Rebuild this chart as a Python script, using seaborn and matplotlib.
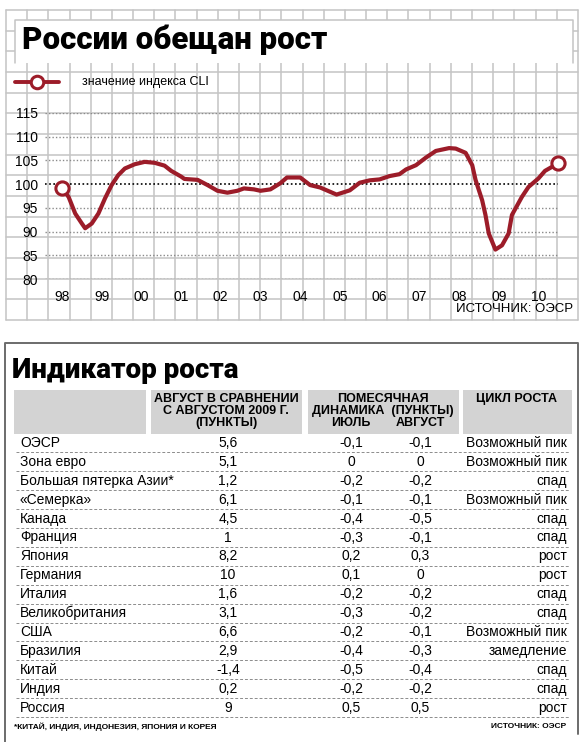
import numpy as np
import pandas as pd
import matplotlib
matplotlib.use("Agg")
import matplotlib.pyplot as plt
import seaborn as sns
from matplotlib import font_manager
from matplotlib.patches import Rectangle

# --- данные графика: индекс CLI (месяцы от января 1998) ---
months = [0, 2, 4, 6, 7, 9, 11, 13, 15, 17, 19, 22, 25, 28, 31, 33, 36, 37, 41, 44,
          47, 50, 53, 55, 58, 60, 63, 66, 68, 72, 75, 78, 83, 87, 90, 93, 96, 99, 102,
          104, 107, 110, 113, 117, 119, 122, 124, 125, 127, 128, 129, 131, 133, 135,
          136, 139, 141, 144, 146, 150]
cli = [99.1, 97.3, 93.8, 91.7, 90.7, 91.7, 93.8, 97.0, 99.8, 101.9, 103.3, 104.2,
       104.7, 104.5, 103.9, 102.8, 101.6, 101.1, 100.9, 99.8, 98.6, 98.2, 98.6, 99.1,
       98.9, 98.6, 98.9, 100.2, 101.4, 101.4, 99.8, 99.3, 97.8, 98.7, 100.3, 100.8,
       101.0, 101.7, 102.1, 103.1, 104.0, 105.6, 107.0, 107.6, 107.5, 106.6, 104.0,
       100.9, 96.6, 93.5, 89.6, 86.2, 87.1, 89.6, 93.5, 97.3, 99.4, 101.2, 102.8, 104.4]
years = list(range(1998, 2011))
y_ticks = [80, 85, 90, 95, 100, 105, 110, 115]

# --- данные таблицы ---
countries = ["ОЭСР", "Зона евро", "Большая пятерка Азии*", "«Семерка»", "Канада",
             "Франция", "Япония", "Германия", "Италия", "Великобритания", "США",
             "Бразилия", "Китай", "Индия", "Россия"]
aug_vs_2009 = [5.6, 5.1, 1.2, 6.1, 4.5, 1, 8.2, 10, 1.6, 3.1, 6.6, 2.9, -1.4, 0.2, 9]
jul = [-0.1, 0, -0.2, -0.1, -0.4, -0.3, 0.2, 0.1, -0.2, -0.3, -0.2, -0.4, -0.5, -0.2, 0.5]
aug = [-0.1, 0, -0.2, -0.1, -0.5, -0.1, 0.3, 0, -0.2, -0.2, -0.1, -0.3, -0.4, -0.2, 0.5]
cycle = ["Возможный пик", "Возможный пик", "спад", "Возможный пик", "спад", "спад",
         "рост", "рост", "спад", "спад", "Возможный пик", "замедление", "спад",
         "спад", "рост"]

sns.set_style("white")
names = {f.name for f in font_manager.fontManager.ttflist}
narrow = "Liberation Sans Narrow" if "Liberation Sans Narrow" in names else "Liberation Sans"
plt.rcParams["font.family"] = [narrow, "DejaVu Sans"]
plt.rcParams["text.color"] = "black"
plt.rcParams["xtick.color"] = "black"
plt.rcParams["ytick.color"] = "black"
heavy = ["Roboto", "DejaVu Sans"]

RED = "#9c1c29"
GRID = "#c4c4c4"
W, H = 582, 742

fig = plt.figure(figsize=(W / 100, H / 100), dpi=100)

# фон во весь рисунок в пикселях
bg = fig.add_axes([0, 0, 1, 1], zorder=0)
bg.set_xlim(0, W)
bg.set_ylim(H, 0)
bg.axis("off")

# клетчатая подложка
for k in range(28):
    x = 6 + 21.18 * k
    bg.plot([x, x], [10, 320], color=GRID, lw=1.1)
for k in range(16):
    y = 10 + 20.67 * k
    bg.plot([6, 578], [y, y], color=GRID, lw=1.1)

# плашка заголовка
bg.add_patch(Rectangle((15, 20), 558, 43, facecolor="white", edgecolor="none", zorder=2))
bg.plot([15, 15, 573, 573], [63, 20, 20, 63], color=GRID, lw=1.1, zorder=3)
bg.text(22, 40, "России обещан рост", fontsize=22.5, fontweight="black",
        family=heavy, va="center", ha="left", zorder=4)

# легенда
bg.plot([15, 59], [82, 82], color=RED, lw=2.8, zorder=3)
bg.plot([37], [82], "o", ms=9, mfc="white", mec=RED, mew=2.2, zorder=4)
bg.text(82, 82, "значение индекса CLI", fontsize=9, va="center", ha="left", zorder=4)

# график
x0, x1, y_top, y_bot = 45, 558, 113, 279
ax = fig.add_axes([x0 / W, 1 - y_bot / H, (x1 - x0) / W, (y_bot - y_top) / H], zorder=1)
ax.set_facecolor("none")
px_year = 39.7
ax.set_xlim(1998 + (x0 - 62) / px_year, 1998 + (x1 - 62) / px_year)
ax.set_ylim(80, 115)

df = pd.DataFrame({"year": 1998 + np.array(months) / 12, "cli": cli})
for v in y_ticks:
    if v == 100:
        continue
    ax.axhline(v, color="#8a8a8a", lw=1.0, ls=(0, (1, 1.5)), zorder=1)
ax.axhline(100, color="black", lw=1.2, ls=(0, (1, 1.5)), zorder=1)
sns.lineplot(data=df, x="year", y="cli", ax=ax, color=RED, lw=3.0, zorder=3,
             clip_on=False)
ends = df.iloc[[0, -1]]
ax.plot(ends["year"], ends["cli"], "o", ms=9.5, mfc="white", mec=RED, mew=2.2,
        zorder=4, clip_on=False)

ax.set_yticks(y_ticks)
ax.set_yticklabels([str(v) for v in y_ticks], fontsize=10)
ax.set_xticks(years)
ax.set_xticklabels([f"{y % 100:02d}" for y in years], fontsize=10)
ax.tick_params(length=0)
ax.tick_params(axis="y", pad=5)
ax.tick_params(axis="x", pad=8)
ax.set_xlabel("")
ax.set_ylabel("")
for s in ax.spines.values():
    s.set_visible(False)

bg.text(573, 309, "ИСТОЧНИК: ОЭСР", fontsize=9.5, ha="right", va="center", zorder=4)

# --- таблица ---
BORDER = "#6b6b6b"
bg.plot([5, 5, 578, 578], [742, 343, 343, 734], color=BORDER, lw=1.4)
bg.text(12, 370, "Индикатор роста", fontsize=20, fontweight="black",
        family=heavy, va="center", ha="left")

HEAD = "#d3d3d3"
for a, b in [(14, 146), (151, 302), (308, 459), (463, 572)]:
    bg.add_patch(Rectangle((a, 390), b - a, 44, facecolor=HEAD, edgecolor="none"))

hk = dict(fontsize=9, fontweight="bold", va="center", ha="center")
bg.text(226, 399, "АВГУСТ В СРАВНЕНИИ", **hk)
bg.text(226, 411, "С АВГУСТОМ 2009 Г.", **hk)
bg.text(226, 423, "(ПУНКТЫ)", **hk)
bg.text(383, 399, "ПОМЕСЯЧНАЯ", **hk)
bg.text(383, 411, "ДИНАМИКА  (ПУНКТЫ)", **hk)
bg.text(351, 423, "ИЮЛЬ", **hk)
bg.text(420, 423, "АВГУСТ", **hk)
bg.text(517, 399, "ЦИКЛ РОСТА", **hk)


def fmt(v):
    return f"{v:g}".replace(".", ",")


rk = dict(fontsize=10, va="center")
for i, name in enumerate(countries):
    y = 443 + 18.9 * i
    bg.text(20, y, name, ha="left", **rk)
    bg.text(228, y, fmt(aug_vs_2009[i]), ha="center", **rk)
    bg.text(351, y, fmt(jul[i]), ha="center", **rk)
    bg.text(420, y, fmt(aug[i]), ha="center", **rk)
    bg.text(567, y, cycle[i], ha="right", **rk)
    bg.plot([16, 570], [y + 9.4, y + 9.4], color="#8c8c8c", lw=0.7, ls=(0, (3, 2)))

fk = dict(fontsize=6, fontweight="bold", va="center")
bg.text(14, 727, "*КИТАЙ, ИНДИЯ, ИНДОНЕЗИЯ, ЯПОНИЯ И КОРЕЯ", ha="left", **fk)
bg.text(566, 727, "ИСТОЧНИК: ОЭСР", ha="right", **fk)

fig.savefig("out.png", dpi=100)
